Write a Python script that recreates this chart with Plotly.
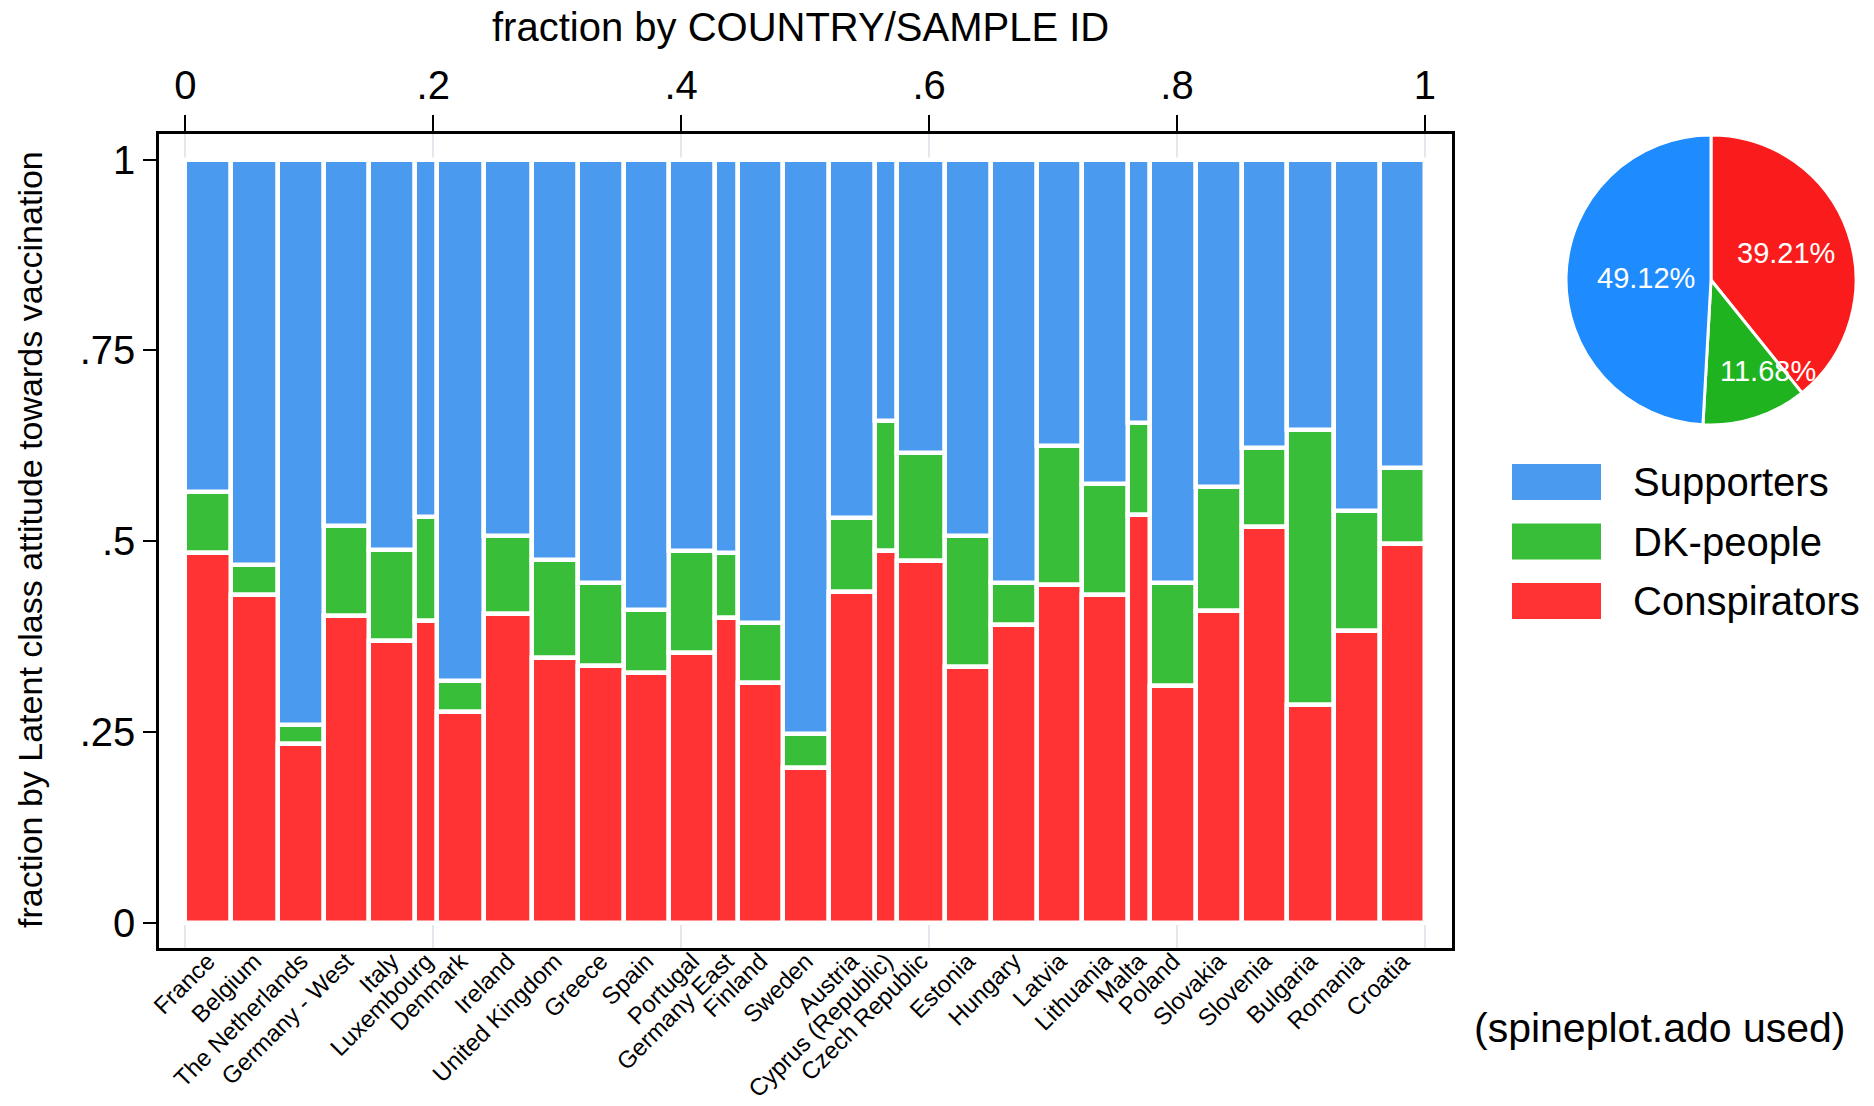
import numpy as np
import plotly.graph_objects as go

# ---- data -------------------------------------------------------------
countries = [
    "France", "Belgium", "The Netherlands", "Germany - West", "Italy",
    "Luxembourg", "Denmark", "Ireland", "United Kingdom", "Greece", "Spain",
    "Portugal", "Germany East", "Finland", "Sweden", "Austria",
    "Cyprus (Republic)", "Czech Republic", "Estonia", "Hungary", "Latvia",
    "Lithuania", "Malta", "Poland", "Slovakia", "Slovenia", "Bulgaria",
    "Romania", "Croatia",
]

# respondents per country (sets the width of each spine)
sample_size = [
    1020, 1060, 1030, 1000, 1040, 500, 1040, 1080, 1030, 1030, 1020,
    1030, 510, 1010, 1030, 1020, 510, 1070, 1030, 1030, 1020, 1020,
    500, 1020, 1030, 1020, 1040, 1040, 1010,
]

# share of each latent class within a country (%)
conspirators = [
    48.5, 42.9, 23.5, 40.2, 36.9, 39.5, 27.6, 40.5, 34.7, 33.7, 32.8,
    35.4, 39.9, 31.4, 20.3, 43.3, 48.7, 47.4, 33.5, 39.0, 44.3, 43.0,
    53.5, 31.1, 40.9, 51.9, 28.6, 38.3, 49.7,
]
dk_people = [
    8.0, 4.0, 2.5, 11.8, 12.0, 13.7, 4.1, 10.2, 12.8, 10.9, 8.2,
    13.3, 8.5, 7.9, 4.4, 9.8, 17.0, 14.1, 17.2, 5.5, 18.2, 14.5,
    12.0, 13.4, 16.2, 10.3, 36.0, 15.7, 9.9,
]
supporters = [
    43.5, 53.1, 74.0, 48.0, 51.1, 46.8, 68.3, 49.3, 52.5, 55.4, 59.0,
    51.3, 51.6, 60.7, 75.3, 46.9, 34.3, 38.5, 49.3, 55.5, 37.5, 42.5,
    34.5, 55.5, 42.9, 37.8, 35.4, 46.0, 40.4,
]

# overall class shares (%)
pie_labels = ["Conspirators", "DK-people", "Supporters"]
pie_values = [39.21, 11.68, 49.12]

x_ticks = [0, 0.2, 0.4, 0.6, 0.8, 1]
x_ticktext = ["0", ".2", ".4", ".6", ".8", "1"]
y_ticks = [0, 0.25, 0.5, 0.75, 1]
y_ticktext = ["0", ".25", ".5", ".75", "1"]

# ---- styling ------------------------------------------------------------
W, H = 1874, 1106
FONT = "Liberation Sans, Arial, Helvetica, sans-serif"
bar_colors = {"Supporters": "#4a9bf0", "DK-people": "#38be38", "Conspirators": "#ff3333"}
pie_colors = {"Supporters": "#1e8cff", "DK-people": "#1fb31f", "Conspirators": "#fa1c1c"}


def px(x):
    return x / W


def py(y):
    return 1 - y / H


# ---- spine geometry -----------------------------------------------------
n = np.array(sample_size, dtype=float)
widths = n / n.sum()
lefts = np.concatenate([[0.0], np.cumsum(widths)[:-1]])
centers = lefts + widths / 2

fig = go.Figure()

# segments stacked bottom-up; the first one sits on the top (fraction) axis
series = [
    ("Conspirators", conspirators, "x2"),
    ("DK-people", dk_people, "x"),
    ("Supporters", supporters, "x"),
]
base = np.zeros(len(countries))
for name, vals, xa in series:
    share = np.array(vals) / 100.0
    fig.add_trace(go.Bar(
        x=centers,
        y=share,
        base=base.copy(),
        width=widths,
        xaxis=xa, yaxis="y",
        name=name,
        marker=dict(color=bar_colors[name], line=dict(color="white", width=4.5)),
        showlegend=False,
        customdata=countries,
        hovertemplate="%{customdata}<br>" + name + ": %{y:.1%}<extra></extra>",
    ))
    base = base + share

# ---- overall pie --------------------------------------------------------
pie_cx, pie_cy, pie_r = 1711, 280, 145
fig.add_trace(go.Pie(
    labels=pie_labels,
    values=pie_values,
    sort=False,
    direction="clockwise",
    rotation=0,
    marker=dict(colors=[pie_colors[l] for l in pie_labels],
                line=dict(color="white", width=3)),
    textinfo="none",
    showlegend=False,
    domain=dict(x=[px(pie_cx - pie_r), px(pie_cx + pie_r)],
                y=[py(pie_cy + pie_r), py(pie_cy - pie_r)]),
))

annotations = []

# percentage labels placed along each slice's bisector
label_radius = {"Conspirators": 0.55, "DK-people": 0.74, "Supporters": 0.45}
label_nudge = {"Conspirators": 0.0, "DK-people": -14.0, "Supporters": 0.0}
total = sum(pie_values)
start = 0.0
for lab, v in zip(pie_labels, pie_values):
    mid = (start + v / 2) / total * 360.0 + label_nudge[lab]
    start += v
    rr = label_radius[lab] * pie_r
    lx = pie_cx + rr * np.sin(np.radians(mid))
    ly = pie_cy - rr * np.cos(np.radians(mid))
    annotations.append(dict(
        x=px(lx), y=py(ly), xref="paper", yref="paper",
        text=f"{v:.2f}%", showarrow=False,
        font=dict(family=FONT, size=29, color="white"),
        xanchor="center", yanchor="middle",
    ))

# ---- legend (drawn as swatches + text) ----------------------------------
shapes = []
legend_items = ["Supporters", "DK-people", "Conspirators"]
for i, name in enumerate(legend_items):
    y0 = 464 + i * 59.5
    shapes.append(dict(
        type="rect", xref="paper", yref="paper",
        x0=px(1512), x1=px(1601), y0=py(y0 + 36), y1=py(y0),
        fillcolor=bar_colors[name], line=dict(width=0),
    ))
    annotations.append(dict(
        x=px(1631), y=py(y0 + 18), xref="paper", yref="paper",
        text=name, showarrow=False, xanchor="left", yanchor="middle",
        font=dict(family=FONT, size=40, color="black"),
    ))

# ---- titles and note ----------------------------------------------------
annotations.append(dict(
    x=px(800), y=py(27), xref="paper", yref="paper",
    text="fraction by COUNTRY/SAMPLE ID", showarrow=False,
    xanchor="center", yanchor="middle",
    font=dict(family=FONT, size=40, color="black"),
))
annotations.append(dict(
    x=px(30), y=py(540), xref="paper", yref="paper",
    text="fraction by Latent class attitude towards vaccination",
    showarrow=False, textangle=-90, xanchor="center", yanchor="middle",
    font=dict(family=FONT, size=34, color="black"),
))
annotations.append(dict(
    x=px(1660), y=py(1028), xref="paper", yref="paper",
    text="(spineplot.ado used)", showarrow=False,
    xanchor="center", yanchor="middle",
    font=dict(family=FONT, size=41, color="black"),
))

# ---- axes ---------------------------------------------------------------
x_range = [-0.0212, 1.0218]
y_range = [-0.0327, 1.0334]
x_domain = [px(159), px(1452)]
y_domain = [py(948), py(134)]

fig.update_layout(
    width=W, height=H,
    margin=dict(l=0, r=0, t=0, b=0, autoexpand=False),
    paper_bgcolor="white", plot_bgcolor="white",
    barmode="overlay", bargap=0,
    font=dict(family=FONT, color="black"),
    xaxis=dict(
        domain=x_domain, range=x_range, automargin=False,
        tickmode="array", tickvals=list(centers), ticktext=countries,
        tickangle=-45, ticks="", showgrid=False, zeroline=False,
        ticklabelstandoff=-13,
        tickfont=dict(family=FONT, size=24, color="black"),
        showline=True, linecolor="black", linewidth=2.5, mirror=True,
    ),
    xaxis2=dict(
        overlaying="x", side="top", anchor="y", domain=x_domain,
        range=x_range, automargin=False,
        tickmode="array", tickvals=x_ticks,
        ticktext=x_ticktext, ticks="outside", ticklen=18, tickwidth=2,
        tickcolor="black", showgrid=True, gridcolor="#e4e8ee", gridwidth=1.5,
        zeroline=False, tickfont=dict(family=FONT, size=40, color="black"),
        showline=False,
    ),
    yaxis=dict(
        domain=y_domain, range=y_range, automargin=False,
        tickmode="array", tickvals=y_ticks, ticktext=y_ticktext,
        ticks="outside", ticklen=13, tickwidth=2, tickcolor="black",
        showgrid=False, zeroline=False,
        tickfont=dict(family=FONT, size=40, color="black"),
        showline=True, linecolor="black", linewidth=2.5, mirror=True,
    ),
    shapes=shapes,
    annotations=annotations,
)

fig.write_html("out.html")
